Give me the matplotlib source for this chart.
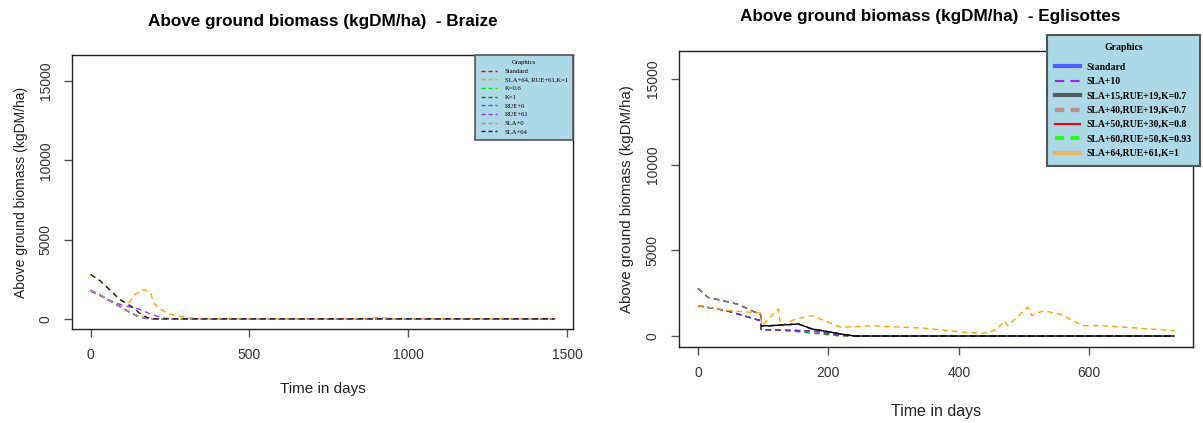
import matplotlib
matplotlib.use("Agg")
import matplotlib.pyplot as plt
from matplotlib.lines import Line2D

# ---------------- Braize data ----------------
braize_labels = ["Standard", "SLA+64, RUE+61,K=1", "K=0.6", "K=1", "RUE+0",
                 "RUE+61", "SLA+0", "SLA+64"]
braize_colors = ["#FF0000", "#FFA500", "#00EE00", "#1E7B1E", "#4060FF",
                 "#A040F0", "#BC8F8F", "#202020"]

b_days_base = [0, 30, 60, 90, 120, 150, 175, 205, 1460]
b_base = [1800, 1500, 1150, 800, 450, 150, 30, 0, 0]

b_days_sla64 = [0, 30, 63, 90, 130, 155, 178, 205, 1460]
b_sla64 = [2800, 2400, 1780, 1250, 760, 350, 80, 0, 0]

b_days_rue61 = [0, 30, 65, 100, 150, 185, 227, 255, 1460]
b_rue61 = [1740, 1450, 1140, 850, 630, 330, 60, 0, 0]

b_days_orange = [0, 30, 63, 90, 118, 140, 168, 188, 200, 225, 249, 303, 340,
                 870, 885, 925, 945, 1460]
b_orange = [2800, 2400, 1780, 1250, 950, 1550, 1840, 1670, 950, 550, 300, 80, 0,
            0, 90, 80, 0, 0]

# ---------------- Eglisottes data ----------------
egl_labels = ["Standard", "SLA+10", "SLA+15,RUE+19,K=0.7", "SLA+40,RUE+19,K=0.7",
              "SLA+50,RUE+30,K=0.8", "SLA+60,RUE+50,K=0.93", "SLA+64,RUE+61,K=1"]
egl_colors = ["#5060FF", "#A020F0", "#4F5F5F", "#BC8F8F", "#FF0000", "#20FF20",
              "#E8B860"]
egl_legend_dashed = [False, True, False, True, False, True, False]
egl_legend_lw = [3, 1.5, 3, 3, 1.5, 3, 3]

e_days_upper = [0, 15, 60, 96, 97, 110, 154, 175, 200, 219, 240, 730]
e_upper = [2780, 2260, 1870, 1245, 600, 600, 700, 410, 250, 117, 0, 0]

e_days_lower = [0, 44, 96, 97, 140, 175, 219, 240, 730]
e_lower = [1770, 1480, 895, 370, 330, 300, 60, 0, 0]

e_days_green = [0, 44, 96, 97, 140, 175, 219, 240, 730]
e_green = [1770, 1480, 895, 370, 300, 170, 0, 0, 0]

e_days_orange = [0, 44, 96, 98, 123, 127, 150, 175, 219, 268, 350, 405, 438, 459,
                 470, 475, 506, 512, 530, 557, 590, 622, 731]
e_orange = [1770, 1500, 1340, 600, 1580, 600, 1000, 1190, 510, 600, 450, 230, 160,
            400, 900, 600, 1690, 1200, 1480, 1260, 600, 600, 310]

# ---------------- figure ----------------
plt.rcParams['font.family'] = ['Liberation Sans', 'DejaVu Sans']
fig = plt.figure(figsize=(12.03, 4.23), dpi=100)

axL = fig.add_axes([0.0599, 0.2222, 0.4165, 0.6478])
axR = fig.add_axes([0.5644, 0.1797, 0.4273, 0.6998])

dash = (0, (4, 3))

# Braize lines
b_series = {
    "Standard": (b_days_base, b_base),
    "SLA+64, RUE+61,K=1": (b_days_orange, b_orange),
    "K=0.6": (b_days_base, b_base),
    "K=1": (b_days_base, b_base),
    "RUE+0": (b_days_base, b_base),
    "RUE+61": (b_days_rue61, b_rue61),
    "SLA+0": (b_days_base, b_base),
    "SLA+64": (b_days_sla64, b_sla64),
}
for lab, col in zip(braize_labels, braize_colors):
    d, v = b_series[lab]
    axL.plot(d, v, color=col, lw=1, linestyle=dash)

# Eglisottes lines
e_series = {
    "Standard": (e_days_lower, e_lower, "#3040E0"),
    "SLA+10": (e_days_lower, e_lower, "#A020F0"),
    "SLA+15,RUE+19,K=0.7": (e_days_upper, e_upper, "#101010"),
    "SLA+40,RUE+19,K=0.7": (e_days_upper, e_upper, "#9C7070"),
    "SLA+50,RUE+30,K=0.8": (e_days_green, e_green, "#2E8B2E"),
    "SLA+60,RUE+50,K=0.93": (e_days_lower, e_lower, "#7030D0"),
    "SLA+64,RUE+61,K=1": (e_days_orange, e_orange, "#FFA500"),
}
for lab in egl_labels:
    d, v, c = e_series[lab]
    axR.plot(d, v, color=c, lw=1, linestyle=dash)
# black solid part after drop
axR.plot(e_days_upper[4:], e_upper[4:], color="black", lw=1)

for ax, ylfs, xlfs, xlpad in ((axL, 10, 11, 14), (axR, 10.8, 11.5, 17)):
    ax.set_yticks([0, 5000, 10000, 15000])
    ax.set_yticklabels(["0", "5000", "10000", "15000"], rotation=90, va="center")
    ax.tick_params(axis="both", direction="out", length=6, width=1,
                   color="#555555", labelcolor="#333333", labelsize=10, pad=8)
    for s in ax.spines.values():
        s.set_color("#222222")
        s.set_linewidth(1)
    ax.set_ylabel("Above ground biomass (kgDM/ha)", fontsize=ylfs, color="#222222",
                  labelpad=8)
    ax.set_xlabel("Time in days", fontsize=xlfs, color="#222222", labelpad=xlpad)

axL.set_xlim(-58.4, 1518.4)
axL.set_ylim(-640, 16640)
axL.set_xticks([0, 500, 1000, 1500])
axR.set_xlim(-29.2, 759.2)
axR.set_ylim(-640, 16640)
axR.set_xticks([0, 200, 400, 600])

fig.text(0.268, 0.950, "Above ground biomass (kgDM/ha)  - Braize", ha="center",
         va="center", fontsize=12.3, fontweight="bold")
fig.text(0.773, 0.962, "Above ground biomass (kgDM/ha)  - Eglisottes", ha="center",
         va="center", fontsize=12.3, fontweight="bold")

# Legends
hL = [Line2D([], [], color=c, lw=1, linestyle=(0, (3, 2))) for c in braize_colors]
legL = axL.legend(hL, braize_labels, title="Graphics", loc="upper right",
                  bbox_to_anchor=(1.0, 1.0),
                  prop={'family': 'Liberation Serif', 'size': 4.8},
                  frameon=True, fancybox=False, borderpad=0.8, labelspacing=0.45,
                  handlelength=2.4, handletextpad=1.2, borderaxespad=0)
legL.get_title().set_family('Liberation Serif')
legL.get_title().set_fontsize(4.8)
legL.get_frame().set_facecolor("#ADD8E6")
legL.get_frame().set_edgecolor("#555555")
legL.get_frame().set_linewidth(1.2)
legL.get_frame().set_alpha(1)

hR = []
for c, dsh, w in zip(egl_colors, egl_legend_dashed, egl_legend_lw):
    ls = (0, (6.6 / w, 4.5 / w)) if dsh else "-"
    hR.append(Line2D([], [], color=c, lw=w, linestyle=ls))
legR = fig.legend(hR, egl_labels, title="Graphics", loc="upper left",
                  bbox_to_anchor=(0.8703, 0.9173),
                  prop={'family': 'Liberation Serif', 'size': 7.0, 'weight': 'bold'},
                  frameon=True, fancybox=False, borderpad=0.8, labelspacing=0.55,
                  handlelength=2.6, handletextpad=0.7, borderaxespad=0)
legR.get_title().set_family('Liberation Serif')
legR.get_title().set_fontsize(7.0)
legR.get_title().set_fontweight('bold')
legR._legend_box.sep = 8
legR.get_frame().set_facecolor("#ADD8E6")
legR.get_frame().set_edgecolor("#555555")
legR.get_frame().set_linewidth(1.5)
legR.get_frame().set_alpha(1)

fig.savefig("out.png", dpi=100)
